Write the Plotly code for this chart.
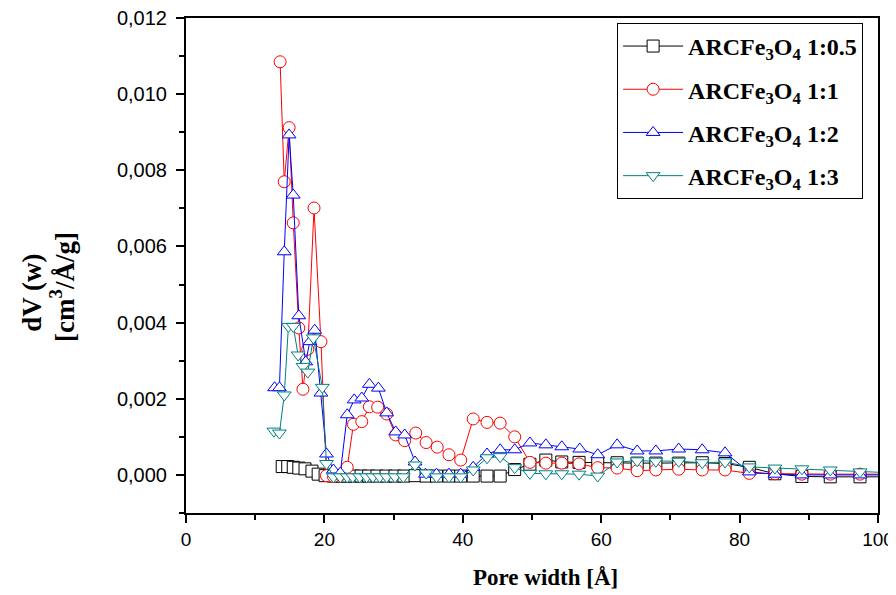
import plotly.graph_objects as go

# ---- data (pore width in Å, dV(w) in cm3/Å/g) ----
x_05 = [13.9, 14.7, 15.5, 16.3, 17.2, 18.2, 19.1, 20.1, 21.3, 22.3, 23.3, 24.2, 25.3, 26.4, 27.6,
        28.9, 30.2, 31.5, 33.1, 34.7, 36.2, 38.0, 39.7, 41.5, 43.5, 45.4, 47.5, 49.7, 52.0, 54.3,
        56.8, 59.5, 62.3, 65.2, 67.9, 71.2, 74.6, 77.9, 81.4, 85.1, 89.0, 93.1, 97.4, 101.5]
y_05 = [0.00022, 0.00022, 0.00020, 0.00018, 0.00016, 0.00010, 0.00002, -0.00002, -0.00003, -0.00003,
        -0.00003, -0.00003, -0.00003, -0.00003, -0.00003, -0.00003, -0.00003, -0.00003, -0.00002,
        -0.00003, -0.00003, -0.00003, -0.00003, -0.00003, -0.00003, -0.00003, 0.00014, 0.00028,
        0.00039, 0.00034, 0.00033, 0.00032, 0.00032, 0.00031, 0.00031, 0.00031, 0.00032, 0.00030,
        0.00020, 0.00003, -0.00004, -0.00005, -0.00005, -0.00005]

x_1 = [13.6, 14.2, 14.9, 15.5, 16.3, 16.9, 17.6, 18.5, 19.5, 20.3, 21.3, 22.3, 23.3, 24.2, 25.4,
       26.5, 27.7, 29.0, 30.3, 31.6, 33.2, 34.7, 36.3, 38.0, 39.7, 41.5, 43.5, 45.4, 47.5, 49.7,
       52.0, 54.3, 56.8, 59.5, 62.3, 65.2, 67.9, 71.2, 74.6, 77.9, 81.4, 85.1, 89.0, 93.1, 97.4, 101.5]
y_1 = [0.01085, 0.0077, 0.00912, 0.00662, 0.00386, 0.00225, 0.0033, 0.00701, 0.0035, -0.00002,
       -0.00004, 0.0, 0.0002, 0.00133, 0.0014, 0.00179, 0.00178, 0.0016, 0.00105, 0.0009,
       0.0011, 0.00085, 0.00073, 0.00053, 0.00039, 0.00147, 0.00138, 0.00136, 0.001, 0.00033,
       0.00031, 0.00031, 0.00029, 0.00019, 0.00018, 0.00011, 0.00013, 0.00015, 0.00013, 0.00013,
       0.00004, 0.00003, 0.00002, 0.00002, 0.00002, 0.00002]

x_2 = [12.8, 13.5, 14.2, 14.9, 15.5, 16.3, 17.3, 17.9, 18.6, 19.5, 20.3, 21.3, 22.3, 23.3, 24.3,
       25.4, 26.5, 27.8, 29.0, 30.3, 31.6, 33.1, 34.6, 36.2, 38.0, 39.7, 41.5, 43.5, 45.4, 47.5,
       49.7, 52.0, 54.3, 56.9, 59.5, 62.3, 65.2, 67.9, 71.2, 74.6, 77.9, 81.4, 85.1, 89.0, 93.1,
       97.4, 101.5]
y_2 = [0.00229, 0.00229, 0.00586, 0.00893, 0.00735, 0.00418, 0.00297, 0.0035, 0.0038, 0.00215,
       0.00055, 0.00013, 0.00005, 0.00158, 0.00197, 0.00202, 0.00238, 0.00228, 0.00163, 0.00113,
       0.00105, 0.00034, 0.00002, 0.00002, 0.00002, 0.00002, 0.0002, 0.00055, 0.00066, 0.00066,
       0.00084, 0.00079, 0.00074, 0.00068, 0.00053, 0.00079, 0.00063, 0.00063, 0.00068, 0.00066,
       0.00058, 0.00008, 0.00002, 0.0, 0.0, 0.0, 0.0]

x_3 = [12.7, 13.5, 14.2, 14.8, 15.5, 16.2, 16.9, 17.6, 18.4, 19.7, 20.3, 21.3, 22.3, 23.3, 24.1,
       25.1, 26.1, 27.0, 28.0, 29.0, 30.2, 31.4, 33.1, 34.7, 36.2, 38.0, 39.7, 41.5, 43.5, 45.4,
       47.5, 49.7, 52.0, 54.3, 56.8, 59.5, 62.3, 65.2, 67.9, 71.2, 74.6, 77.9, 81.4, 85.1, 89.0,
       93.1, 97.4, 101.5]
y_3 = [0.00115, 0.0011, 0.0021, 0.0039, 0.0039, 0.00315, 0.00285, 0.0027, 0.0036, 0.0023,
       0.0003, -0.00005, -0.00005, -0.00005, -0.00005, -0.00005, -0.00005, -0.00005, -0.00005,
       -0.00005, -0.00005, -0.00005, 0.00026, 0.00005, -0.00005, -0.00005, -0.00005, 0.00013,
       0.00045, 0.00048, 0.00019, 0.00004, 0.00003, 0.00003, 0.00002, -0.00003, 0.00034, 0.00037,
       0.00036, 0.00036, 0.00032, 0.00034, 0.00021, 0.00018, 0.00016, 0.00013, 0.00008, 0.00006]

names = ["ARCFe<sub>3</sub>O<sub>4</sub> 1:0.5", "ARCFe<sub>3</sub>O<sub>4</sub> 1:1",
         "ARCFe<sub>3</sub>O<sub>4</sub> 1:2", "ARCFe<sub>3</sub>O<sub>4</sub> 1:3"]
y_title_lines = ["<b>dV (w)</b>", "<b>[cm<sup>3</sup>/Å/g]</b>"]
x_title = "<b>Pore width [Å]</b>"
y_tick_vals = [0.000, 0.002, 0.004, 0.006, 0.008, 0.010, 0.012]
x_tick_vals = [0, 20, 40, 60, 80, 100]

series = [
    (x_05, y_05, names[0], "#000000", "square"),
    (x_1, y_1, names[1], "#FF0000", "circle"),
    (x_2, y_2, names[2], "#0000FF", "triangle-up"),
    (x_3, y_3, names[3], "#008080", "triangle-down"),
]

fig = go.Figure()
for i, (xs, ys, nm, col, sym) in enumerate(series):
    fig.add_trace(go.Scatter(
        x=xs, y=ys, name=nm, mode="lines+markers", legendgroup=str(i),
        line=dict(color=col, width=1),
        marker=dict(symbol=sym, size=12, color="white", line=dict(color=col, width=1)),
    ))

# the page body adds an 8px offset, so the figure is sized/margined to compensate
fig.update_layout(
    width=888, height=587,
    margin=dict(l=178, r=18, t=10, b=82, autoexpand=False),
    paper_bgcolor="white", plot_bgcolor="white",
    separators=",.",
    showlegend=True,
    legend=dict(
        x=0.623, y=0.99, xanchor="left", yanchor="top",
        bordercolor="black", borderwidth=1, bgcolor="white",
        font=dict(family="Liberation Serif", size=24, color="black", weight="bold"),
        tracegroupgap=9, traceorder="grouped", itemwidth=60,
    ),
    font=dict(family="Liberation Sans", size=18, color="black"),
)

# y-axis title as two rotated lines
for txt, xp, yp in zip(y_title_lines, [-0.2225, -0.179], [0.445, 0.457]):
    fig.add_annotation(text=txt, xref="paper", yref="paper", x=xp, y=yp,
                       xanchor="center", yanchor="middle", textangle=-90, showarrow=False,
                       font=dict(family="Liberation Serif", size=27, color="black"))
# x-axis title
fig.add_annotation(text=x_title, xref="paper", yref="paper", x=0.519, y=-0.131,
                   xanchor="center", yanchor="middle", showarrow=False,
                   font=dict(family="Liberation Serif", size=23, color="black"))

fig.update_xaxes(
    range=[0, 100], tickvals=x_tick_vals, automargin=False, ticklabeloverflow="allow",
    showline=True, linewidth=2, linecolor="black", mirror=True,
    ticks="outside", ticklen=8, tickwidth=2, tickcolor="black",
    minor=dict(dtick=10, ticks="outside", ticklen=5, tickwidth=1.5, tickcolor="black"),
    showgrid=False, zeroline=False,
    tickfont=dict(family="Liberation Sans", size=19),
)
fig.update_yaxes(
    range=[-0.001, 0.012], tickvals=y_tick_vals, tickformat=".3f", automargin=False,
    ticklabeloverflow="allow",
    showline=True, linewidth=2, linecolor="black", mirror=True,
    ticks="outside", ticklen=8, tickwidth=2, tickcolor="black",
    minor=dict(dtick=0.001, tick0=0, ticks="outside", ticklen=5, tickwidth=1.5, tickcolor="black"),
    showgrid=False, zeroline=False, ticklabelstandoff=5,
    tickfont=dict(family="Liberation Sans", size=20),
)

fig.write_html("out.html")
